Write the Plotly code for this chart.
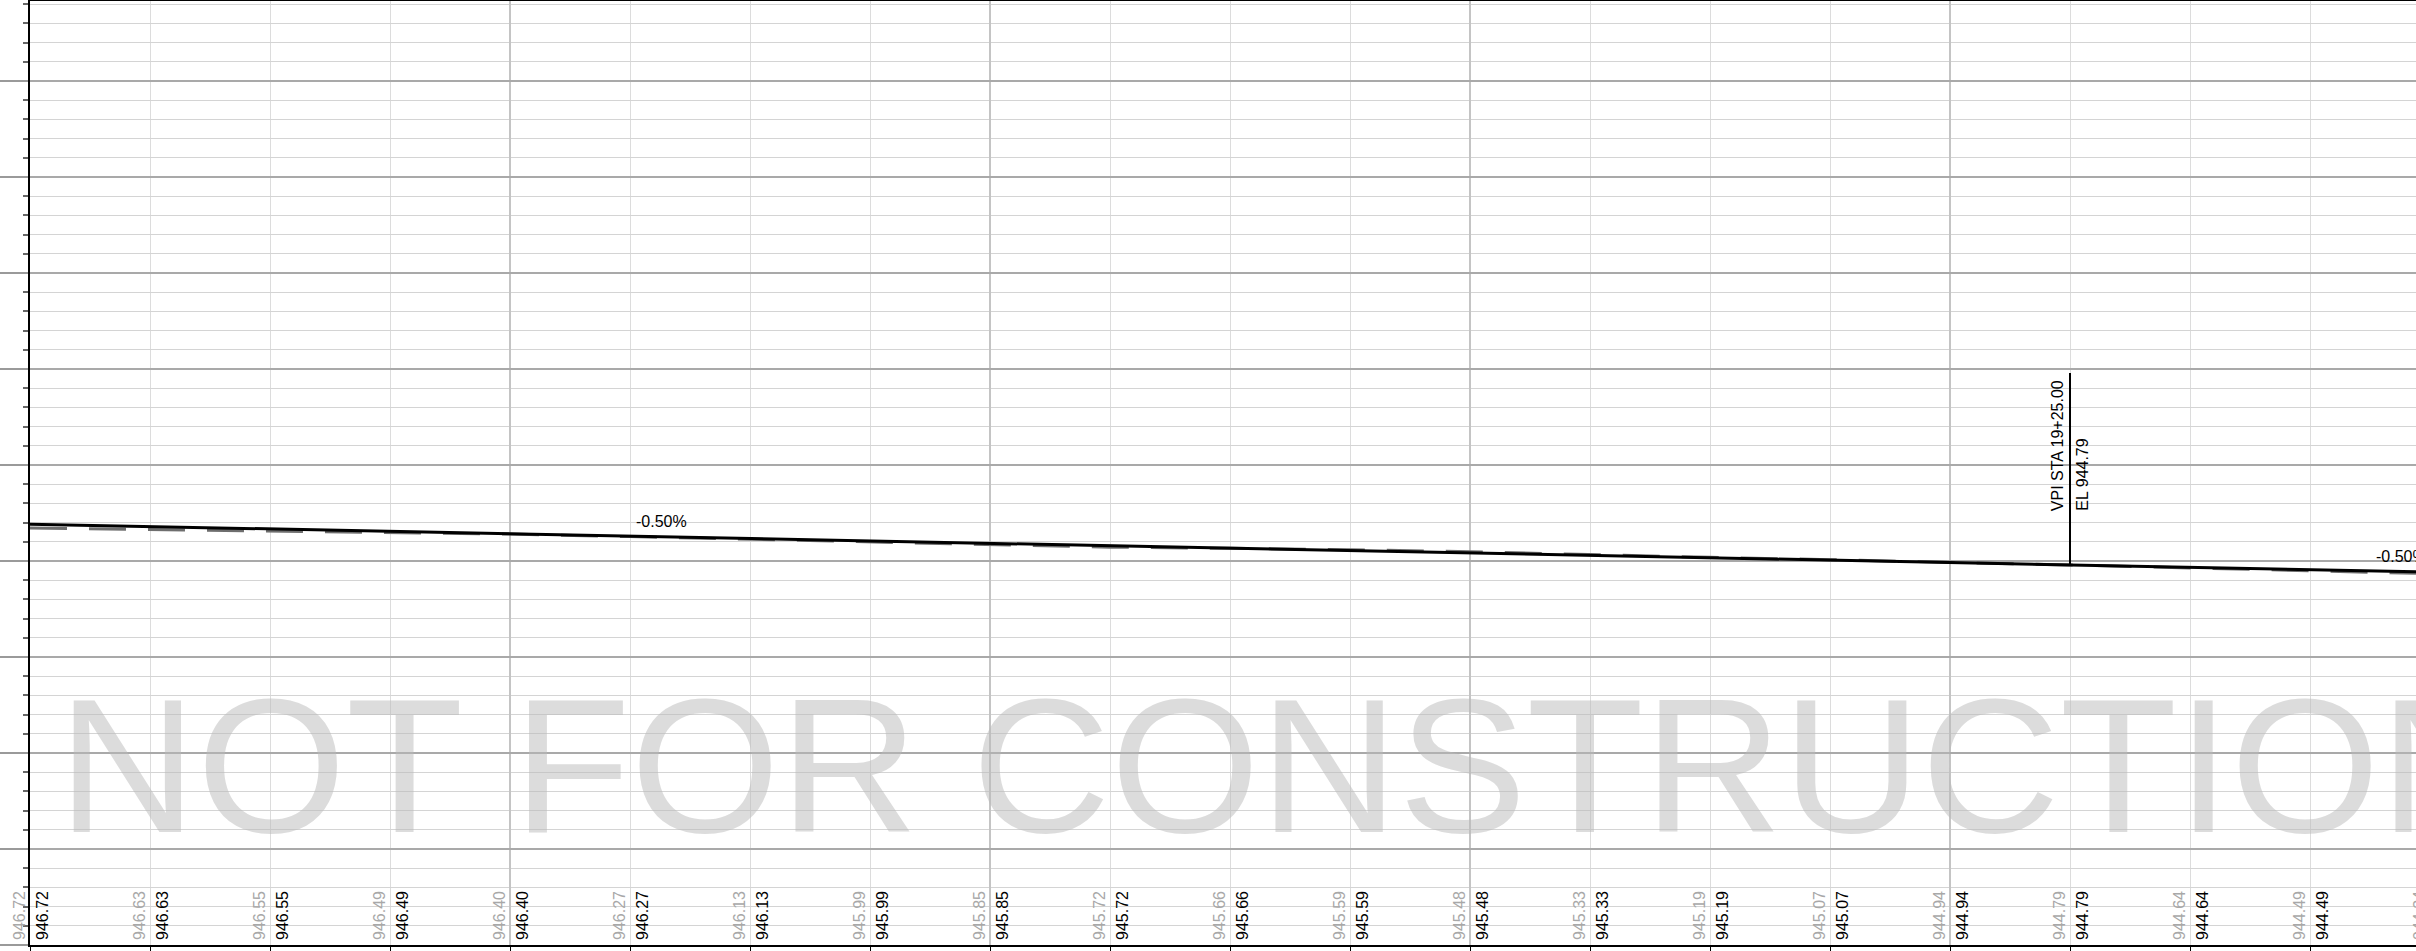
import plotly.graph_objects as go

# stations (ft) along the profile, every 25 ft
stations = [1500, 1525, 1550, 1575, 1600, 1625, 1650, 1675, 1700, 1725, 1750,
            1775, 1800, 1825, 1850, 1875, 1900, 1925, 1950, 1975, 2000]

# existing ground elevations (grey labels / dashed line)
existing_el = [946.72, 946.63, 946.55, 946.49, 946.40, 946.27, 946.13, 945.99,
               945.85, 945.72, 945.66, 945.59, 945.48, 945.33, 945.19, 945.07,
               944.94, 944.79, 944.64, 944.49, 944.34]

# proposed elevations shown in the black labels
proposed_labels = [946.72, 946.63, 946.55, 946.49, 946.40, 946.27, 946.13, 945.99,
                   945.85, 945.72, 945.66, 945.59, 945.48, 945.33, 945.19, 945.07,
                   944.94, 944.79, 944.64, 944.49, 944.34]

# proposed grade line (PVIs)
grade_sta = [1500, 1925, 2000]
grade_el = [946.92, 944.79, 944.42]

vpi_sta = 1925
vpi_el = 944.79
vpi_text = "VPI STA 19+25.00"
vpi_el_text = "EL 944.79"

grade_labels = ["-0.50%", "-0.50%"]
grade_label_sta = [1625, 1987.5]
grade_label_el = [946.29, 944.48]

FONT = "Liberation Sans, Arial, sans-serif"
X_RANGE = [1500, 1500 + 2386 / 4.8]

fig = go.Figure()

fig.add_trace(go.Scatter(
    x=stations, y=existing_el, mode="lines",
    line=dict(color="#6e6e6e", width=3, dash="37px,22px"),
    hoverinfo="skip", showlegend=False,
))
fig.add_trace(go.Scatter(
    x=grade_sta, y=grade_el, mode="lines",
    line=dict(color="#000000", width=3),
    hoverinfo="skip", showlegend=False,
))
# VPI stick
fig.add_trace(go.Scatter(
    x=[vpi_sta, vpi_sta], y=[vpi_el, vpi_el + 10], mode="lines",
    line=dict(color="#000000", width=2),
    hoverinfo="skip", showlegend=False,
))

# watermark (semi transparent so the grid shows through)
fig.add_annotation(
    text="NOT FOR CONSTRUCTION", xref="paper", yref="paper",
    x=0.011, y=0.19, xanchor="left", yanchor="middle", showarrow=False,
    font=dict(family=FONT, size=192, color="rgba(185,185,185,0.5)"),
)


def sta_ref(s):
    # stations past the axis end are placed in paper units so they still draw
    if s <= X_RANGE[1]:
        return s, "x"
    return (s - X_RANGE[0]) / (X_RANGE[1] - X_RANGE[0]), "paper"


# elevation labels along the bottom
for s, e, p in zip(stations, existing_el, proposed_labels):
    xv, xr = sta_ref(s)
    fig.add_annotation(
        text=f"{e:.2f}", x=xv, y=0, xref=xr, yref="paper",
        xanchor="right", yanchor="bottom", textangle=-90, showarrow=False,
        xshift=0, yshift=3, font=dict(family=FONT, size=16, color="#a8a8a8"),
    )
    fig.add_annotation(
        text=f"{p:.2f}", x=xv, y=0, xref=xr, yref="paper",
        xanchor="left", yanchor="bottom", textangle=-90, showarrow=False,
        xshift=2, yshift=3, font=dict(family=FONT, size=16, color="#000000"),
    )

# VPI text
fig.add_annotation(
    text=vpi_text, x=vpi_sta, y=vpi_el + 2.7, xanchor="right", yanchor="bottom",
    textangle=-90, showarrow=False, xshift=-2,
    font=dict(family=FONT, size=16, color="#000000"),
)
fig.add_annotation(
    text=vpi_el_text, x=vpi_sta, y=vpi_el + 2.7, xanchor="left", yanchor="bottom",
    textangle=-90, showarrow=False, xshift=2,
    font=dict(family=FONT, size=16, color="#000000"),
)

for t, s, e in zip(grade_labels, grade_label_sta, grade_label_el):
    fig.add_annotation(
        text=t, x=s, y=e, xanchor="left", yanchor="bottom", showarrow=False,
        xshift=4, yshift=4, font=dict(family=FONT, size=16, color="#000000"),
    )

fig.update_layout(
    width=2416, height=951,
    margin=dict(l=30, r=0, t=1, b=6, pad=0),
    paper_bgcolor="white", plot_bgcolor="white",
    showlegend=False,
)
fig.update_xaxes(
    range=X_RANGE, tick0=1500, dtick=100,
    showgrid=True, gridcolor="#c4c4c4", gridwidth=1.5,
    showticklabels=False, ticks="outside", ticklen=6, tickcolor="#000000", tickwidth=1,
    showline=True, linecolor="#000000", linewidth=2, mirror=True,
    zeroline=False, automargin=False,
    minor=dict(dtick=25, tick0=1500, showgrid=True, gridcolor="#dcdcdc", gridwidth=1,
               ticks="outside", ticklen=6, tickcolor="#000000", tickwidth=1),
)
fig.update_yaxes(
    range=[925, 925 + 944 / 19.2], tick0=925, dtick=5,
    showgrid=True, gridcolor="#a9a9a9", gridwidth=1.5,
    showticklabels=False, ticks="outside", ticklen=30, tickcolor="#9a9a9a", tickwidth=2,
    showline=True, linecolor="#000000", linewidth=2,
    zeroline=False, automargin=False,
    minor=dict(dtick=1, tick0=925, showgrid=True, gridcolor="#d4d4d4", gridwidth=1,
               ticks="outside", ticklen=5, tickcolor="#666666", tickwidth=2),
)

# drop the default page margin so the figure sits at the top-left corner
fig.write_html("out.html", config={"displayModeBar": False},
               post_script="document.body.style.margin='0';")
